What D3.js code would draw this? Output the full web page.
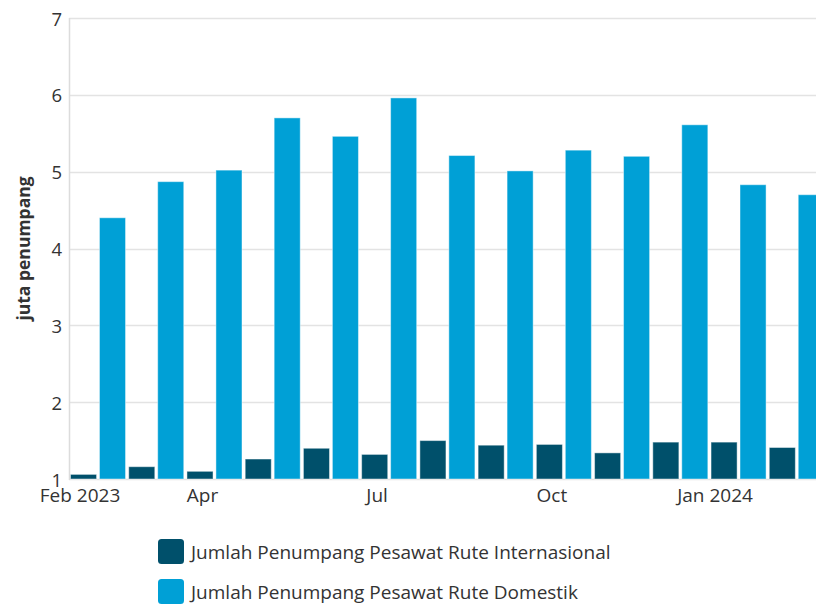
<!DOCTYPE html>
<html>
<head>
<meta charset="utf-8">
<script src="https://cdn.jsdelivr.net/npm/d3@7"></script>
<style>
  html, body { margin: 0; padding: 0; background: #fff; overflow: hidden; }
  svg { display: block; font-family: "Open Sans", "Noto Sans", sans-serif; }
</style>
</head>
<body>
<svg id="chart" width="816" height="604"></svg>
<script>
// ---- data ----
const months = ["Feb 2023","Mar 2023","Apr 2023","May 2023","Jun 2023","Jul 2023","Aug 2023","Sep 2023","Oct 2023","Nov 2023","Dec 2023","Jan 2024","Feb 2024"];
const internasional = [1.06, 1.16, 1.10, 1.26, 1.40, 1.32, 1.50, 1.44, 1.45, 1.34, 1.48, 1.48, 1.41];
const domestik      = [4.40, 4.87, 5.02, 5.70, 5.46, 5.96, 5.21, 5.01, 5.28, 5.20, 5.61, 4.83, 4.70];
const seriesNames = ["Jumlah Penumpang Pesawat Rute Internasional", "Jumlah Penumpang Pesawat Rute Domestik"];
const yTicks = [1, 2, 3, 4, 5, 6, 7];
const xTickMonths = ["Feb 2023", "Apr 2023", "Jul 2023", "Oct 2023", "Jan 2024"];
const xTickLabels = ["Feb 2023", "Apr", "Jul", "Oct", "Jan 2024"];
const yTitle = "juta penumpang";

// ---- layout ----
const colors = ["#00506b", "#00a0d6"];
const mLeft = 69, mRight = 826, mTop = 18, mBottom = 479;
const svg = d3.select("#chart");

const x0 = d3.scaleBand().domain(months).range([mLeft, mRight]).padding(0);
const x1 = d3.scaleBand().domain([0, 1]).range([1.5, x0.bandwidth() - 1.7]).paddingInner(0.1).paddingOuter(0);
const y = d3.scaleLinear().domain([1, 7]).range([mBottom, mTop]);

// gridlines
svg.append("g").selectAll("line").data(yTicks).join("line")
  .attr("x1", mLeft).attr("x2", 816)
  .attr("y1", d => Math.round(y(d)) + 0.5).attr("y2", d => Math.round(y(d)) + 0.5)
  .attr("stroke", "#e3e3e3").attr("stroke-width", 1.5);

// y axis line
svg.append("line").attr("x1", mLeft + 0.5).attr("x2", mLeft + 0.5)
  .attr("y1", mTop).attr("y2", mBottom + 1)
  .attr("stroke", "#dcdcdc").attr("stroke-width", 1.5);

// y tick labels
svg.append("g").selectAll("text").data(yTicks).join("text")
  .attr("x", 62).attr("y", d => y(d))
  .attr("text-anchor", "end").attr("dominant-baseline", "central")
  .attr("font-size", 18.5).attr("fill", "#333")
  .text(d => d);

// y title
svg.append("text")
  .attr("transform", `translate(23,${(mTop + mBottom) / 2}) rotate(-90)`)
  .attr("text-anchor", "middle").attr("dominant-baseline", "central")
  .attr("font-size", 17.5).attr("font-weight", "bold").attr("fill", "#333")
  .text(yTitle);

// bars
const series = [internasional, domestik];
const g = svg.append("g");
months.forEach((m, i) => {
  series.forEach((s, k) => {
    g.append("rect")
      .attr("x", x0(m) + x1(k))
      .attr("y", y(s[i]))
      .attr("width", x1.bandwidth())
      .attr("height", y(1) - y(s[i]))
      .attr("fill", colors[k])
      .attr("stroke", "#ffffff").attr("stroke-opacity", 0.45).attr("stroke-width", 1);
  });
});

// x tick labels
const labelShift = {"Feb 2023": 11, "Jan 2024": 5.5};
svg.append("g").selectAll("text").data(xTickMonths).join("text")
  .attr("x", (d) => x0(d) + (labelShift[d] !== undefined ? labelShift[d] : 17))
  .attr("y", 502)
  .attr("text-anchor", "middle")
  .attr("font-size", 19).attr("fill", "#333")
  .text((d, i) => xTickLabels[i]);

// legend
const leg = svg.append("g").selectAll("g").data(seriesNames).join("g")
  .attr("transform", (d, i) => `translate(158,${539 + i * 40})`);
leg.append("rect").attr("width", 26).attr("height", 25).attr("rx", 3.5)
  .attr("fill", (d, i) => colors[i]);
leg.append("text").attr("x", 33).attr("y", 13)
  .attr("dominant-baseline", "central")
  .attr("font-size", 19).attr("fill", "#333")
  .text(d => d);
</script>
</body>
</html>
